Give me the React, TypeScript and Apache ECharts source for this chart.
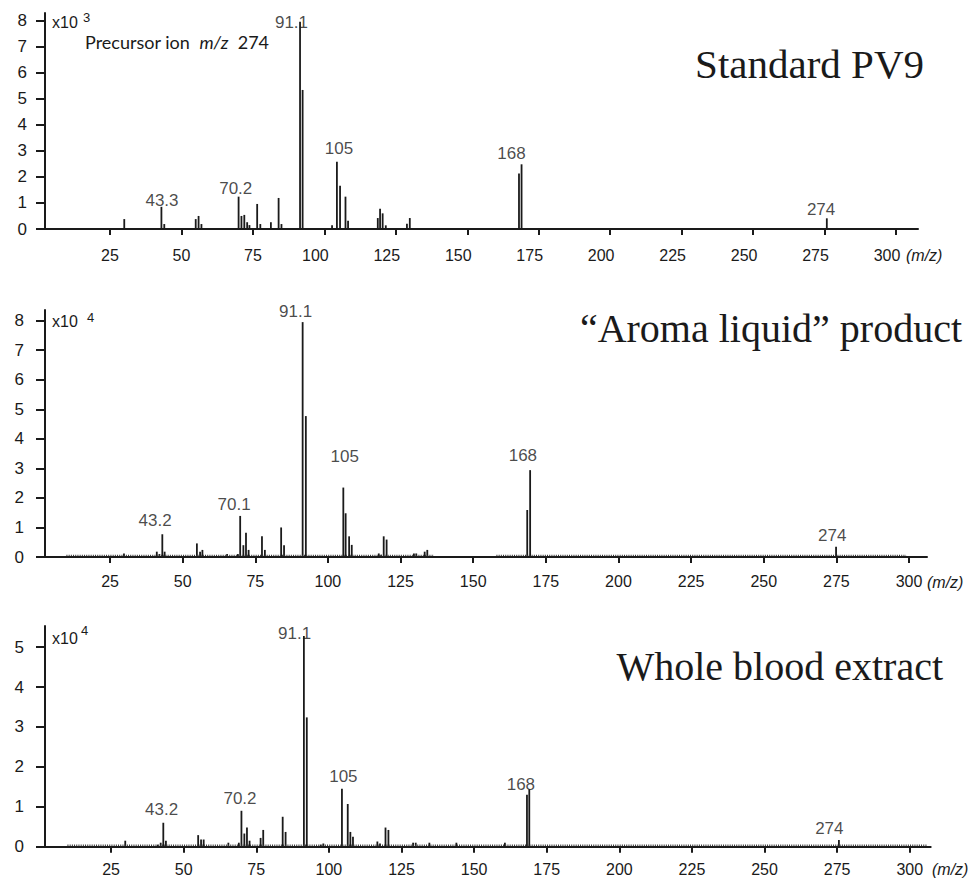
import React, { useEffect, useRef } from "react";
import * as echarts from "echarts";

// ---------- data ----------
const xTicks = [25, 50, 75, 100, 125, 150, 175, 200, 225, 250, 275, 300];
const yTicksStandard = [0, 1, 2, 3, 4, 5, 6, 7, 8];
const yTicksAroma = [0, 1, 2, 3, 4, 5, 6, 7, 8];
const yTicksBlood = [0, 1, 2, 3, 4, 5];

// [m/z, intensity] (Standard in x10^3, others in x10^4)
const standardPeaks: [number, number][] = [
  [30, 0.38], [43, 0.85], [44, 0.19], [55, 0.38], [56, 0.5], [57, 0.19],
  [70, 1.24], [71, 0.5], [72, 0.54], [73, 0.26], [73.8, 0.15], [76.5, 0.96],
  [77.6, 0.19], [81.3, 0.26], [84, 1.19], [85, 0.19], [91.5, 7.94], [92.4, 5.33],
  [102.7, 0.14], [104.4, 2.58], [105.5, 1.66], [107.4, 1.24], [108.3, 0.32],
  [118.7, 0.42], [119.5, 0.78], [120.4, 0.6], [121.5, 0.14], [128.9, 0.2],
  [129.9, 0.42], [168.1, 2.13], [169, 2.48], [275.8, 0.41],
];
const aromaPeaks: [number, number][] = [
  [29.8, 0.12], [41.1, 0.18], [42, 0.1], [43, 0.77], [43.8, 0.18], [54.9, 0.46],
  [56, 0.18], [56.8, 0.24], [65.3, 0.1], [69, 0.1], [69.8, 1.39], [70.9, 0.4],
  [71.8, 0.82], [72.7, 0.24], [77.3, 0.7], [78.3, 0.24], [83.9, 1.0], [84.9, 0.4],
  [91.3, 7.95], [92.4, 4.77], [105.3, 2.35], [106.1, 1.48], [107.3, 0.7],
  [108.2, 0.41], [117.5, 0.12], [118.3, 0.08], [119.2, 0.7], [120.2, 0.59],
  [129.6, 0.12], [130.4, 0.12], [133.3, 0.18], [134.2, 0.24], [168.6, 1.59],
  [169.6, 2.94], [274.9, 0.35],
];
const bloodPeaks: [number, number][] = [
  [29.9, 0.15], [41.1, 0.05], [42.1, 0.1], [43, 0.6], [43.9, 0.15], [55, 0.29],
  [56, 0.18], [56.9, 0.18], [65.4, 0.1], [69, 0.1], [69.9, 0.9], [70.9, 0.33],
  [71.8, 0.48], [72.7, 0.15], [76.5, 0.22], [77.4, 0.42], [84.1, 0.75], [85.1, 0.37],
  [91.4, 5.28], [92.4, 3.24], [97.2, 0.05], [98.1, 0.08], [104.5, 1.45],
  [106.5, 1.07], [107.4, 0.37], [108.3, 0.25], [116.7, 0.13], [117.6, 0.08],
  [119.5, 0.48], [120.5, 0.42], [129, 0.1], [129.9, 0.1], [134.6, 0.1],
  [143.9, 0.1], [160.6, 0.1], [168.2, 1.3], [169, 1.44], [275.6, 0.17],
];

// peak annotations: [m/z, height, text]
const standardLabels: [number, number, string][] = [
  [88.5, 7.93, "91.1"], [43.2, 1.09, "43.3"], [69.0, 1.57, "70.2"],
  [105.1, 3.09, "105"], [165.5, 2.9, "168"], [273.8, 0.73, "274"],
];
const aromaLabels: [number, number, string][] = [
  [88.9, 8.3, "91.1"], [40.5, 1.25, "43.2"], [67.7, 1.79, "70.1"],
  [105.8, 3.41, "105"], [167.1, 3.44, "168"], [273.6, 0.73, "274"],
];
const bloodLabels: [number, number, string][] = [
  [88.2, 5.33, "91.1"], [42.4, 0.93, "43.2"], [69.4, 1.22, "70.2"],
  [105.0, 1.77, "105"], [166.1, 1.56, "168"], [272.3, 0.45, "274"],
];

// baseline noise ranges (m/z)
const aromaNoise: [number, number][] = [[10, 136.5], [158, 299]];
const bloodNoise: [number, number][] = [[10, 306]];

const panelTitles = ["Standard PV9", "\u201CAroma liquid\u201D product", "Whole blood extract"];
const panelExponents = ["3", "4", "4"];

// ---------- layout ----------
const INK = "#1a1a1a";
const SANS = "Liberation Sans";
const SERIF = "Liberation Serif";
const CAL = "Lato";

const panels = [
  {
    peaks: standardPeaks, labels: standardLabels, noise: [] as [number, number][], yTicks: yTicksStandard,
    grid: { left: 45, top: 13, width: 873, height: 216 },
    xMin: 2.27, xMax: 307.7, yMax: 8.28, xLabelMargin: 18, yLabelMargin: 18, shift3: true,
    exp: { x: 52, y: 23, sx: 83, sy: 18 },
    title: { x: 924, y: 64, size: 41 }, unit: { x: 906, y: 255 },
  },
  {
    peaks: aromaPeaks, labels: aromaLabels, noise: aromaNoise, yTicks: yTicksAroma,
    grid: { left: 45, top: 310, width: 882, height: 247 },
    xMin: 2.62, xMax: 306.2, yMax: 8.36, xLabelMargin: 16.5, yLabelMargin: 21, shift3: false,
    exp: { x: 52, y: 322, sx: 87, sy: 318 },
    title: { x: 962, y: 328, size: 40 }, unit: { x: 927, y: 582 },
  },
  {
    peaks: bloodPeaks, labels: bloodLabels, noise: bloodNoise, yTicks: yTicksBlood,
    grid: { left: 45, top: 626, width: 885.7, height: 220.7 },
    xMin: 2.27, xMax: 307.2, yMax: 5.53, xLabelMargin: 14.5, yLabelMargin: 21, shift3: false,
    exp: { x: 52, y: 639, sx: 81, sy: 631 },
    title: { x: 943, y: 666, size: 40 }, unit: { x: 932, y: 869 },
  },
];

function buildOption() {
  const grid: any[] = [];
  const xAxis: any[] = [];
  const yAxis: any[] = [];
  const series: any[] = [];
  const graphic: any[] = [];

  panels.forEach((p, i) => {
    grid.push({ ...p.grid, containLabel: false, outerBoundsMode: "none" });
    xAxis.push({
      type: "value", gridIndex: i, min: p.xMin, max: p.xMax,
      axisLine: { show: true, onZero: false, lineStyle: { color: INK, width: 2 } },
      axisTick: { show: true, customValues: xTicks, length: 6, lineStyle: { color: INK, width: 2 } },
      axisLabel: {
        show: true, customValues: xTicks, margin: p.xLabelMargin, fontSize: 16, color: INK, fontFamily: SANS,
        formatter: (v: number) => (p.shift3 && v >= 100 ? `{w|${v}}` : `${v}`),
        rich: { w: { fontSize: 16, color: INK, fontFamily: SANS, padding: [0, 18, 0, 0] } },
      },
      splitLine: { show: false },
    });
    yAxis.push({
      type: "value", gridIndex: i, min: 0, max: p.yMax,
      axisLine: { show: true, lineStyle: { color: INK, width: 2 } },
      axisTick: { show: true, customValues: p.yTicks, length: 9, lineStyle: { color: INK, width: 2 } },
      axisLabel: { show: true, customValues: p.yTicks, margin: p.yLabelMargin, fontSize: 17, color: INK, fontFamily: SANS },
      splitLine: { show: false },
    });
    series.push({
      type: "bar", xAxisIndex: i, yAxisIndex: i, data: p.peaks, barWidth: 1.8,
      itemStyle: { color: INK }, silent: true,
    });
    p.noise.forEach(([a, b]) => {
      series.push({
        type: "line", xAxisIndex: i, yAxisIndex: i,
        data: [[a, p.yMax * 0.006], [b, p.yMax * 0.006]],
        showSymbol: false, silent: true,
        lineStyle: { color: "#333", width: 1.6, type: [1, 1.2] },
      });
    });
    series.push({
      type: "scatter", xAxisIndex: i, yAxisIndex: i, symbolSize: 1, silent: true, z: 10,
      itemStyle: { color: "rgba(0,0,0,0)" },
      data: p.labels.map(([x, y, t]) => ({ value: [x, y], name: t })),
      label: { show: true, position: "inside", formatter: "{b}", fontSize: 17, color: INK, fontFamily: SANS },
    });

    graphic.push({
      type: "text", left: p.exp.x, top: p.exp.y - 9,
      style: { text: "x10", fontSize: 16, fontFamily: SANS, fill: INK },
    });
    graphic.push({
      type: "text", left: p.exp.sx, top: p.exp.sy - 7,
      style: { text: panelExponents[i], fontSize: 13, fontFamily: SANS, fill: INK },
    });
    graphic.push({
      type: "text", x: p.title.x, y: p.title.y,
      style: { text: panelTitles[i], fontSize: p.title.size, fontFamily: SERIF, fill: INK, align: "right", verticalAlign: "middle" },
    });
    graphic.push({
      type: "text", x: p.unit.x, y: p.unit.y,
      style: { text: "(m/z)", fontSize: 16, fontStyle: "italic", fontFamily: SANS, fill: INK, align: "left", verticalAlign: "middle" },
    });
  });

  graphic.push({
    type: "text", x: 85, y: 42,
    style: {
      text: "{n|Precursor ion  }{i|m/z}{n|  274}",
      verticalAlign: "middle",
      rich: {
        n: { fontSize: 18, fontFamily: CAL, fill: INK },
        i: { fontSize: 18, fontStyle: "italic", fontFamily: CAL, fill: INK },
      },
    },
  });

  return { animation: false, backgroundColor: "#ffffff", grid, xAxis, yAxis, series, graphic };
}

export default function App() {
  const ref = useRef<HTMLDivElement>(null);
  useEffect(() => {
    if (!ref.current) return;
    const chart = echarts.init(ref.current, undefined, { renderer: "svg" });
    chart.setOption(buildOption() as any);
    return () => chart.dispose();
  }, []);
  return (
    <div
      ref={ref}
      style={{ position: "fixed", left: 0, top: 0, width: 976, height: 878, background: "#fff" }}
    />
  );
}
